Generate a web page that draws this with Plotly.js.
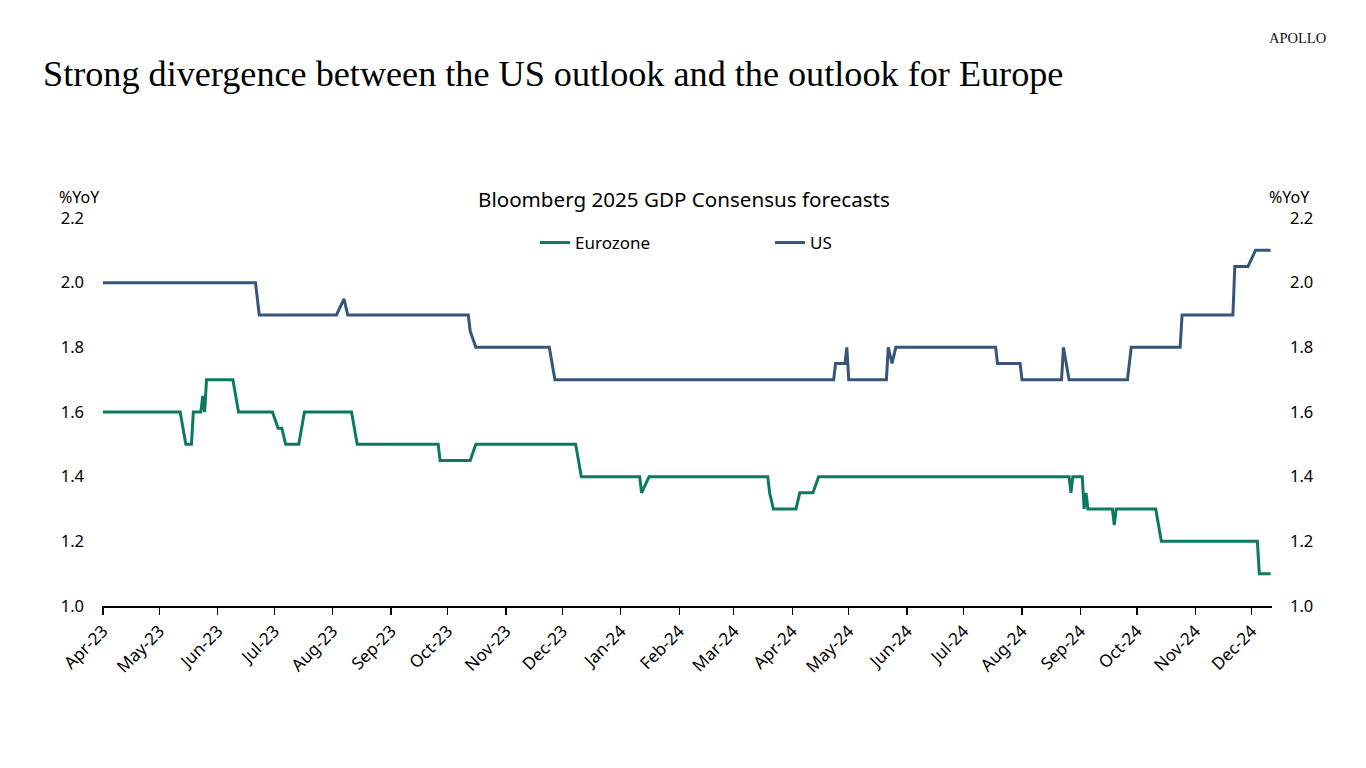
<!DOCTYPE html>
<html>
<head>
<meta charset="utf-8">
<script src="https://cdn.plot.ly/plotly-3.0.1.min.js"></script>
<style>html,body{margin:0;padding:0;background:#fff;}#chart{width:1366px;height:768px;}</style>
</head>
<body>
<div id="chart"></div>
<script>
const usDates = ['2023-04-01','2023-06-21','2023-06-23','2023-08-03','2023-08-07','2023-08-09','2023-10-12','2023-10-13','2023-10-16','2023-11-24','2023-11-27','2024-04-23','2024-04-24','2024-04-29','2024-04-30','2024-05-01','2024-05-21','2024-05-22','2024-05-24','2024-05-26','2024-07-18','2024-07-19','2024-07-31','2024-08-01','2024-08-22','2024-08-23','2024-08-26','2024-09-26','2024-09-28','2024-10-24','2024-10-25','2024-11-21','2024-11-22','2024-11-29','2024-12-03','2024-12-11'];
const usValues = [2.0,2.0,1.9,1.9,1.95,1.9,1.9,1.85,1.8,1.8,1.7,1.7,1.75,1.75,1.8,1.7,1.7,1.8,1.75,1.8,1.8,1.75,1.75,1.7,1.7,1.8,1.7,1.7,1.8,1.8,1.9,1.9,2.05,2.05,2.1,2.1];

const euroDates = ['2023-04-01','2023-05-12','2023-05-15','2023-05-18','2023-05-19','2023-05-23','2023-05-24','2023-05-25','2023-05-26','2023-06-09','2023-06-12','2023-06-30','2023-07-03','2023-07-05','2023-07-07','2023-07-14','2023-07-17','2023-08-11','2023-08-14','2023-09-26','2023-09-27','2023-10-13','2023-10-16','2023-12-08','2023-12-11','2024-01-11','2024-01-12','2024-01-16','2024-03-19','2024-03-20','2024-03-22','2024-04-03','2024-04-05','2024-04-12','2024-04-15','2024-08-26','2024-08-27','2024-08-28','2024-09-02','2024-09-03','2024-09-04','2024-09-05','2024-09-18','2024-09-19','2024-09-20','2024-10-11','2024-10-14','2024-12-04','2024-12-05','2024-12-11'];
const euroValues = [1.6,1.6,1.5,1.5,1.6,1.6,1.65,1.6,1.7,1.7,1.6,1.6,1.55,1.55,1.5,1.5,1.6,1.6,1.5,1.5,1.45,1.45,1.5,1.5,1.4,1.4,1.35,1.4,1.4,1.35,1.3,1.3,1.35,1.35,1.4,1.4,1.35,1.4,1.4,1.3,1.35,1.3,1.3,1.25,1.3,1.3,1.2,1.2,1.1,1.1];

const seriesNames = ['Eurozone','US'];
const yTicks = [1.0,1.2,1.4,1.6,1.8,2.0,2.2];
const yTickText = ['1.0','1.2','1.4','1.6','1.8','2.0','2.2'];

const titleText = 'Strong divergence between the US outlook and the outlook for Europe';
const subtitleText = 'Bloomberg 2025 GDP Consensus forecasts';
const unitText = '%YoY';
const brandText = 'APOLLO';

const sans = 'Noto Sans, Open Sans, sans-serif';
const serif = 'Liberation Serif, DejaVu Serif, serif';

const traces = [
  {x: euroDates, y: euroValues, name: seriesNames[0], type: 'scatter', mode: 'lines',
   line: {color: '#0B7A5F', width: 3}},
  {x: usDates, y: usValues, name: seriesNames[1], type: 'scatter', mode: 'lines',
   line: {color: '#36557A', width: 3}},
  {x: usDates, y: usValues, yaxis: 'y2', showlegend: false, hoverinfo: 'skip', type: 'scatter', mode: 'lines',
   line: {color: 'rgba(0,0,0,0)', width: 0}}
];

const layout = {
  width: 1366, height: 768,
  paper_bgcolor: '#fff', plot_bgcolor: '#fff',
  margin: {l: 102, r: 94, t: 218, b: 162},
  font: {family: sans, size: 16, color: '#000'},
  title: {text: titleText, x: 43/1366, xanchor: 'left', xref: 'container',
          y: 1 - 73/768, yanchor: 'middle', yref: 'container',
          font: {family: serif, size: 36.2, color: '#000'}},
  showlegend: true,
  legend: {orientation: 'h', x: (535-102)/1170, xanchor: 'left', y: (606-243)/388, yanchor: 'middle',
           entrywidth: 190, entrywidthmode: 'pixels', font: {family: sans, size: 17},
           bgcolor: 'rgba(0,0,0,0)', tracegroupgap: 0, itemwidth: 30},
  xaxis: {type: 'date', range: ['2023-03-31 12:00', '2024-12-11 18:00'],
          tick0: '2023-04-01', dtick: 'M1', tickformat: '%b-%y', tickangle: -45,
          showgrid: false, zeroline: false, showline: true, linecolor: '#000', linewidth: 1.5,
          ticks: 'outside', ticklen: 7, tickcolor: '#000', tickwidth: 1.3,
          tickfont: {family: sans, size: 17}},
  yaxis: {range: [1.0, 2.2], tickvals: yTicks, ticktext: yTickText, showgrid: false, zeroline: false,
          showline: false, ticks: '', ticklabelstandoff: 17, tickfont: {family: sans, size: 16.5}},
  yaxis2: {range: [1.0, 2.2], tickvals: yTicks, ticktext: yTickText, overlaying: 'y', side: 'right',
           showgrid: false, zeroline: false, showline: false, ticks: '', ticklabelstandoff: 17,
           tickfont: {family: sans, size: 16.5}},
  annotations: [
    {text: subtitleText, xref: 'paper', yref: 'paper', x: (684-102)/1170, y: (606-199)/388,
     xanchor: 'center', yanchor: 'middle', showarrow: false, font: {family: sans, size: 20.6}},
    {text: unitText, xref: 'paper', yref: 'paper', x: (57-102)/1170, y: (606-197)/388,
     xanchor: 'left', yanchor: 'middle', showarrow: false, font: {family: sans, size: 16}},
    {text: unitText, xref: 'paper', yref: 'paper', x: (1267-102)/1170, y: (606-197)/388,
     xanchor: 'left', yanchor: 'middle', showarrow: false, font: {family: sans, size: 16}},
    {text: brandText, xref: 'paper', yref: 'paper', x: (1297-102)/1170, y: (606-38)/388,
     xanchor: 'center', yanchor: 'middle', showarrow: false,
     font: {family: serif, size: 14.5, color: '#111'}}
  ]
};

Plotly.newPlot('chart', traces, layout, {displayModeBar: false, staticPlot: true});
</script>
</body>
</html>
